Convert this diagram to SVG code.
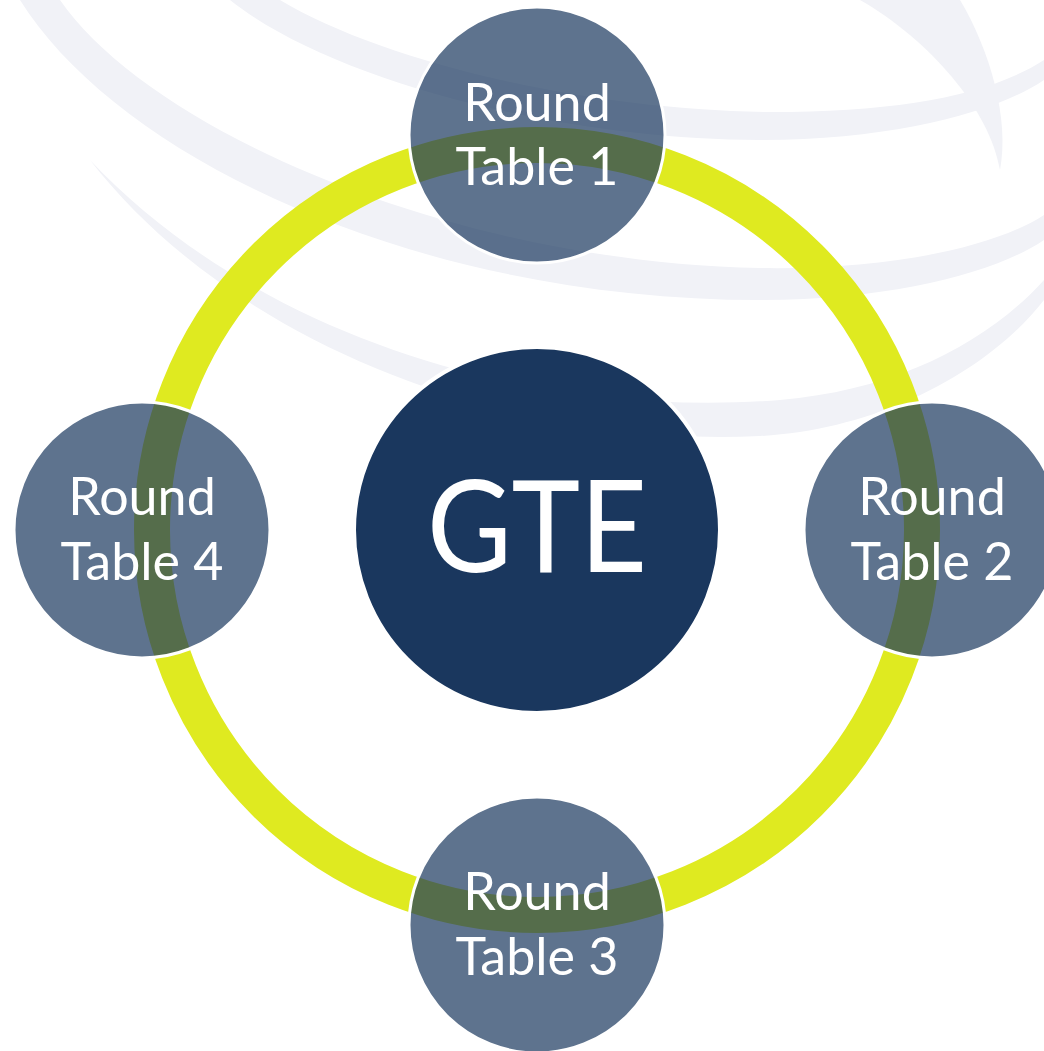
<svg xmlns="http://www.w3.org/2000/svg" width="1044" height="1051" viewBox="0 0 1044 1051">
<style>
.wm{fill:#f1f2f7}
.sat{fill:#1a375e;fill-opacity:0.7;stroke:#ffffff;stroke-width:3}
.lbl{fill:#ffffff;font-family:Lato,"Open Sans",sans-serif;font-size:52px;text-anchor:middle}
</style>
<rect width="1044" height="1051" fill="#ffffff"/>
<g id="watermark">
<path class="wm" d="M20,0 C120,160 420,300 760,300 C900,300 1000,270 1044,240 L1044,215 C990,250 880,270 760,268 C450,262 150,130 60,0 Z"/>
<path class="wm" d="M90,160 C250,330 520,420 780,400 C900,390 990,340 1044,280 L1044,300 C990,370 880,430 760,436 C500,448 230,340 90,160 Z"/>
<path class="wm" d="M230,0 C330,80 560,140 760,140 C900,140 1000,110 1044,80 L1044,60 C990,95 900,112 770,112 C580,110 380,60 280,0 Z"/>
<path class="wm" d="M860,0 C930,40 990,110 1000,170 C1010,120 990,50 960,0 Z"/>
</g>
<g id="connectors">
<circle cx="537" cy="530" r="385" fill="none" stroke="#dfea20" stroke-width="36"/>
</g>
<g id="node-gte">
<circle cx="537" cy="530" r="183" fill="#1a375e" stroke="#ffffff" stroke-width="4"/>
<text x="537" y="572" fill="#ffffff" font-family="Lato,'Open Sans',sans-serif" font-size="128" text-anchor="middle" textLength="220" lengthAdjust="spacingAndGlyphs">GTE</text>
</g>
<g id="node-rt1">
<circle class="sat" cx="537" cy="135" r="128"/>
<text class="lbl" x="537" y="121">Round</text>
<text class="lbl" x="537" y="185">Table 1</text>
</g>
<g id="node-rt2">
<circle class="sat" cx="932" cy="530" r="128"/>
<text class="lbl" x="932" y="515">Round</text>
<text class="lbl" x="932" y="580">Table 2</text>
</g>
<g id="node-rt3">
<circle class="sat" cx="537" cy="925" r="128"/>
<text class="lbl" x="537" y="910">Round</text>
<text class="lbl" x="537" y="975">Table 3</text>
</g>
<g id="node-rt4">
<circle class="sat" cx="142" cy="530" r="128"/>
<text class="lbl" x="142" y="515">Round</text>
<text class="lbl" x="142" y="580">Table 4</text>
</g>
</svg>
